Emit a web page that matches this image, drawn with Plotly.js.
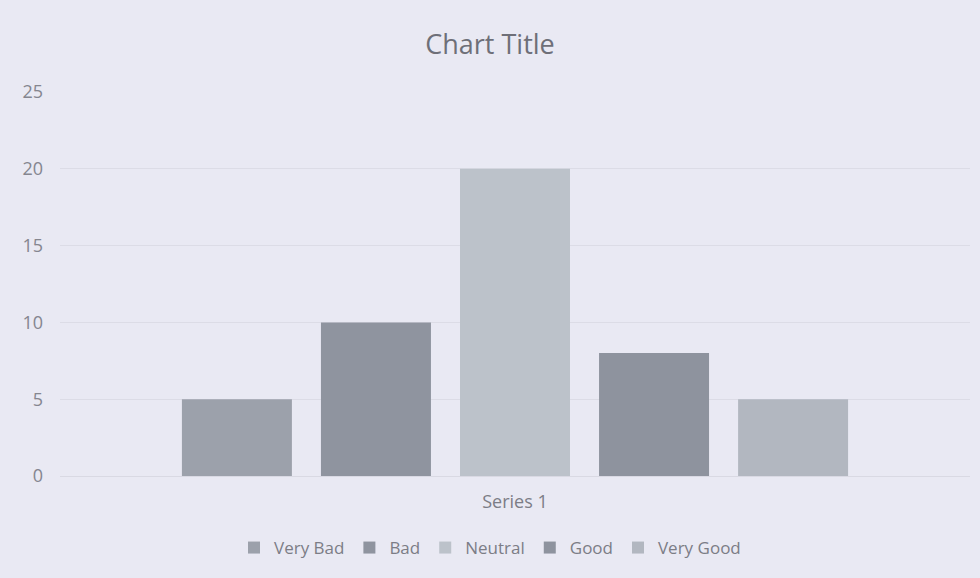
<!DOCTYPE html>
<html>
<head>
<meta charset="utf-8">
<script src="https://cdn.plot.ly/plotly-3.0.1.min.js"></script>
<style>html,body{margin:0;padding:0;background:#e9e9f3;}#chart{width:980px;height:578px;}</style>
</head>
<body>
<div id="chart"></div>
<script>
var seriesNames = ["Very Bad", "Bad", "Neutral", "Good", "Very Good"];
var seriesValues = [5, 10, 20, 8, 5];
var categoryLabels = ["Series 1"];
var barColors = ["#9ca1ab", "#8f949f", "#bcc2ca", "#8e939e", "#b2b7c0"];

var traces = seriesNames.map(function (name, i) {
  return {
    type: "bar",
    name: name,
    x: categoryLabels,
    y: [seriesValues[i]],
    marker: { color: barColors[i] },
    hoverinfo: "name+y"
  };
});

var font = "Open Sans, Liberation Sans, sans-serif";
var layout = {
  width: 980,
  height: 578,
  paper_bgcolor: "#e9e9f3",
  plot_bgcolor: "#e9e9f3",
  margin: { l: 60, r: 10, t: 92, b: 102 },
  title: { text: "Chart Title", x: 0.5, xanchor: "center", y: 1 - 45 / 578, yanchor: "middle",
           font: { family: font, size: 27, color: "#6e6f78" } },
  barmode: "group",
  bargap: 0.236,
  bargroupgap: 0.209,
  xaxis: {
    showgrid: false, zeroline: false, showline: true, linecolor: "#d9d9e3", linewidth: 1,
    tickfont: { family: font, size: 18, color: "#7c7d86" },
    ticks: "", ticklabelstandoff: 9
  },
  yaxis: {
    range: [0, 25], dtick: 5, tick0: 0,
    showgrid: true, gridcolor: "#dcdce6", gridwidth: 1, zeroline: false,
    tickfont: { family: font, size: 18, color: "#85868f" },
    ticks: "", ticklabelstandoff: 16
  },
  showlegend: true,
  legend: {
    orientation: "h", x: 0.5, xanchor: "center", xref: "container",
    y: 1 - 548 / 578, yanchor: "middle", yref: "container",
    font: { family: font, size: 17, color: "#7c7d86" },
    bgcolor: "rgba(0,0,0,0)", itemwidth: 30, traceorder: "normal"
  }
};

Plotly.newPlot("chart", traces, layout, { displayModeBar: false, staticPlot: true });
</script>
</body>
</html>
